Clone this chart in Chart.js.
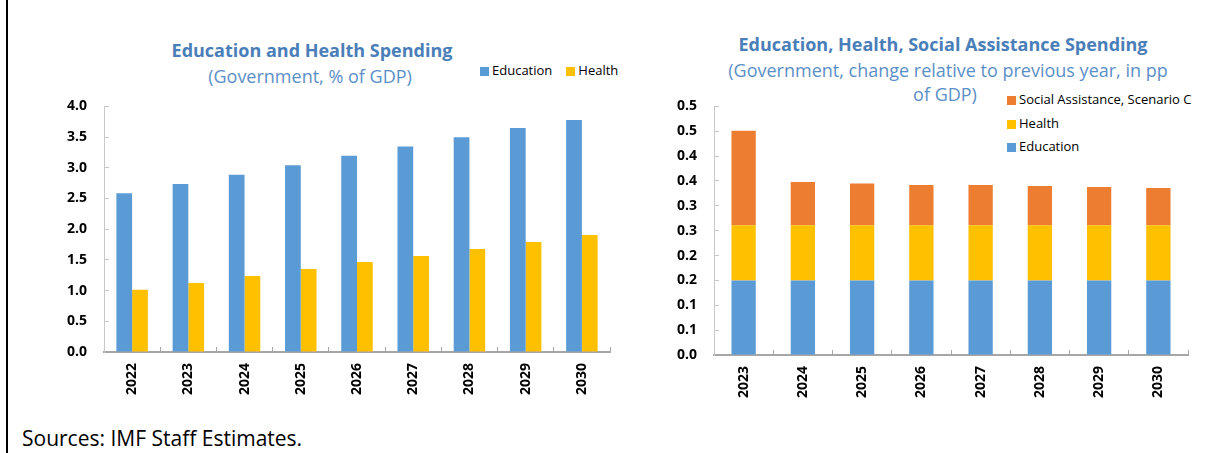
<!DOCTYPE html>
<html>
<head>
<meta charset="utf-8">
<script src="https://cdn.jsdelivr.net/npm/chart.js@4.4.1/dist/chart.umd.min.js"></script>
<style>
  html, body { margin:0; padding:0; background:#fff; }
  body { width:1222px; height:453px; position:relative; overflow:hidden; font-family:"Open Sans", sans-serif; }
  .frame { position:absolute; left:6px; top:0; width:2px; height:453px; background:#000; }
  .t { position:absolute; white-space:nowrap; transform:translate(-50%,-50%); line-height:1; }
  .title { font-weight:700; font-size:18px; color:#4a7eb8; }
  .sub { font-size:18px; color:#5b8fc7; }
  .leg { position:absolute; font-size:13px; color:#000; white-space:nowrap; line-height:1; }
  .leg span.sw { display:inline-block; width:9px; height:9px; margin-right:3px; vertical-align:-1px; }
  .leg .item { display:inline-block; margin-right:14px; }
  .legv .item { display:block; height:23.5px; }
  .box { position:absolute; }
  .src { position:absolute; left:22px; top:438px; transform:translateY(-50%); font-size:21px; color:#000; white-space:nowrap; line-height:1; }
</style>
</head>
<body>
<div class="frame"></div>

<div class="t title" style="left:312px; top:50px;">Education and Health Spending</div>
<div class="t sub" style="left:310px; top:76px;">(Government, % of GDP)</div>
<div id="leg1" class="leg" style="left:480px; top:64px;"></div>
<div class="box" style="left:40px; top:76px; width:580px; height:336px;"><canvas id="c1"></canvas></div>

<div class="t title" style="left:943px; top:44px;">Education, Health, Social Assistance Spending</div>
<div class="t sub" style="left:948px; top:70px;">(Government, change relative to previous year, in pp</div>
<div class="t sub" style="left:945px; top:94px;">of GDP)</div>
<div id="leg2" class="leg legv" style="left:1007px; top:93px;"></div>
<div class="box" style="left:660px; top:76px; width:540px; height:339px;"><canvas id="c2"></canvas></div>

<div class="src">Sources: IMF Staff Estimates.</div>

<script>
// ---- data ----
const years1 = ['2022','2023','2024','2025','2026','2027','2028','2029','2030'];
const education1 = [2.585, 2.735, 2.886, 3.043, 3.195, 3.347, 3.498, 3.649, 3.778];
const health1 = [1.012, 1.125, 1.239, 1.352, 1.466, 1.563, 1.677, 1.790, 1.904];
const leftTickLabels = ['0.0','0.5','1.0','1.5','2.0','2.5','3.0','3.5','4.0'];

const years2 = ['2023','2024','2025','2026','2027','2028','2029','2030'];
const education2 = [0.150, 0.150, 0.150, 0.150, 0.150, 0.150, 0.150, 0.150];
const health2 = [0.111, 0.111, 0.111, 0.111, 0.111, 0.111, 0.111, 0.111];
const socialAssist2 = [0.190, 0.087, 0.084, 0.081, 0.081, 0.079, 0.077, 0.075];
const rightTickLabels = ['0.0','0.1','0.1','0.2','0.2','0.3','0.3','0.4','0.4','0.5','0.5'];

const BLUE = '#5b9bd5', YELLOW = '#ffc000', ORANGE = '#ed7d31';
const AXIS_X = '#a6a6a6', AXIS_Y = '#c8c8c8';

Chart.defaults.font.family = '"Open Sans", sans-serif';
Chart.defaults.color = '#000';

function xScale(){
  return {
    stacked: false,
    border: { display:true, color:AXIS_X, width:2 },
    grid: { display:true, drawOnChartArea:false, drawTicks:true, tickLength:-5, color:AXIS_X, lineWidth:1 },
    ticks: { font:{ size:14, weight:'bold' }, color:'#000', minRotation:90, maxRotation:90, padding:16, autoSkip:false },
    afterFit: s => { s.height = 60; }
  };
}

function legendHtml(el, datasets){
  el.innerHTML = datasets.map(d =>
    '<span class="item"><span class="sw" style="background:'+d.backgroundColor+'"></span>'+d.label+'</span>').join('');
}

const ds1 = [
  { label:'Education', data:education1, backgroundColor:BLUE },
  { label:'Health', data:health1, backgroundColor:YELLOW }
];
const c1 = new Chart(document.getElementById('c1'), {
  type:'bar',
  data:{ labels:years1, datasets:ds1 },
  options:{
    responsive:true, maintainAspectRatio:false, animation:false,
    layout:{ padding:{ top:10, right:10, left:0, bottom:0 } },
    datasets:{ bar:{ categoryPercentage:0.56, barPercentage:1.0 } },
    plugins:{ legend:{ display:false }, tooltip:{ enabled:false }, title:{display:false} },
    scales:{
      x: xScale(),
      y: {
        min:0, max:4,
        border:{ display:true, color:AXIS_Y, width:1 },
        grid:{ display:true, drawOnChartArea:false, drawTicks:true, tickLength:-5, color:AXIS_Y },
        ticks:{ stepSize:0.5, font:{ size:14, weight:'bold' }, color:'#000', padding:22,
          callback:(v,i)=> leftTickLabels[i] },
        afterFit: s => { s.width = 64; }
      }
    }
  }
});
legendHtml(document.getElementById('leg1'), ds1);

const ds2 = [
  { label:'Education', data:education2, backgroundColor:BLUE },
  { label:'Health', data:health2, backgroundColor:YELLOW },
  { label:'Social Assistance, Scenario C', data:socialAssist2, backgroundColor:ORANGE }
];
const xs2 = xScale(); xs2.stacked = true;
const c2 = new Chart(document.getElementById('c2'), {
  type:'bar',
  data:{ labels:years2, datasets:ds2 },
  options:{
    responsive:true, maintainAspectRatio:false, animation:false,
    layout:{ padding:{ top:11, right:12, left:0, bottom:0 } },
    datasets:{ bar:{ categoryPercentage:1.0, barPercentage:0.41 } },
    plugins:{ legend:{ display:false }, tooltip:{ enabled:false } },
    scales:{
      x: xs2,
      y: {
        stacked:true, min:0, max:0.5,
        border:{ display:true, color:AXIS_Y, width:1 },
        grid:{ display:true, drawOnChartArea:false, drawTicks:true, tickLength:-5, color:AXIS_Y },
        ticks:{ stepSize:0.05, font:{ size:14, weight:'bold' }, color:'#000', padding:22,
          callback:(v,i)=> rightTickLabels[i] },
        afterFit: s => { s.width = 54; }
      }
    }
  }
});
legendHtml(document.getElementById('leg2'), ds2.slice().reverse());
</script>
</body>
</html>
